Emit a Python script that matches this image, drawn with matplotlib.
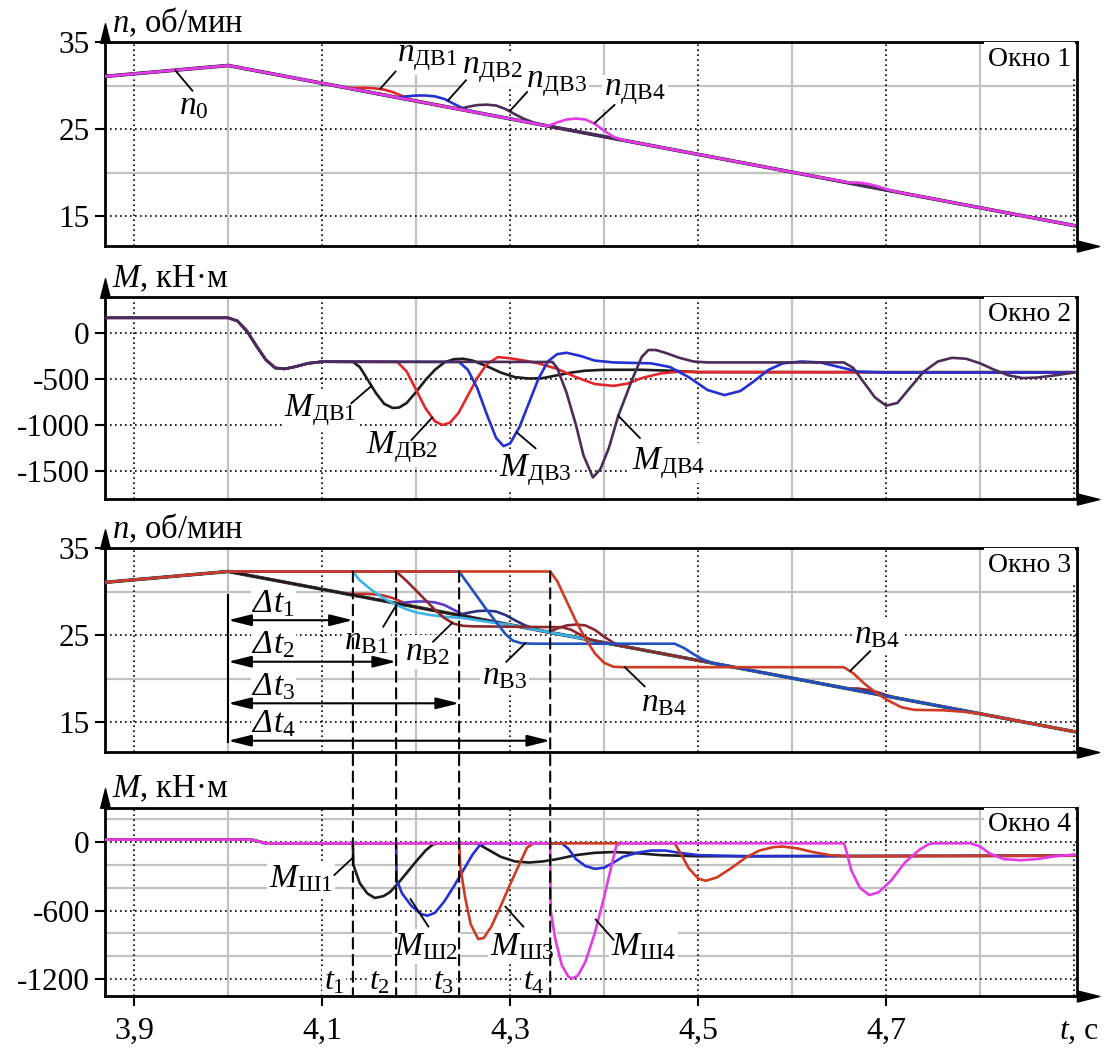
import matplotlib
matplotlib.use("Agg")
import matplotlib.pyplot as plt
from matplotlib.patches import ConnectionPatch
from matplotlib.path import Path
from matplotlib.transforms import offset_copy
from matplotlib.textpath import TextPath
from matplotlib.font_manager import FontProperties

plt.rcParams['font.family'] = ['Liberation Serif', 'DejaVu Serif']
plt.rcParams['axes.unicode_minus'] = False
plt.rcParams['mathtext.fontset'] = 'custom'
plt.rcParams['mathtext.rm'] = 'Liberation Serif'
plt.rcParams['mathtext.it'] = 'Liberation Serif:italic'
plt.rcParams['mathtext.bf'] = 'Liberation Serif:bold'

# ---------------- time axis, s ----------------
T_MIN, T_MAX = 3.869, 4.903
t_ticks = [3.9, 4.1, 4.3, 4.5, 4.7]
t_tick_labels = ['3,9', '4,1', '4,3', '4,5', '4,7']
t_dotted = [3.9, 4.1, 4.3, 4.5, 4.7, 4.9]
t_grey = [4.0, 4.2, 4.4, 4.6, 4.8]

# brake release moments t1..t4
t_release = [4.1327, 4.1787, 4.2457, 4.3426]

# ---------------- speed, rpm (windows 1 and 3) ----------------
t_base = [3.869, 4.0, 4.1, 4.2, 4.3, 4.4, 4.5, 4.6, 4.7, 4.8, 4.9]
n_base = [31.05, 32.3, 30.26, 28.21, 26.17, 24.12, 22.08, 20.04, 17.99, 15.95, 13.9]

# motor speeds: local deviations from the common ramp
t_dv1 = [4.125, 4.135, 4.145, 4.155, 4.165, 4.175, 4.185, 4.195]
n_dv1 = [29.74, 29.72, 29.74, 29.68, 29.55, 29.25, 28.8, 28.35]
t_dv2 = [4.18, 4.19, 4.20, 4.21, 4.22, 4.23, 4.24, 4.25, 4.26]
n_dv2 = [28.62, 28.75, 28.85, 28.85, 28.75, 28.45, 27.9, 27.35, 27.0]
t_dv3 = [4.245, 4.255, 4.265, 4.275, 4.285, 4.295, 4.305, 4.315, 4.325, 4.335]
n_dv3 = [27.29, 27.55, 27.75, 27.8, 27.7, 27.3, 26.7, 26.15, 25.75, 25.45]
t_dv4 = [4.34, 4.35, 4.36, 4.37, 4.38, 4.39, 4.40, 4.41, 4.42]
n_dv4 = [25.35, 25.75, 26.1, 26.2, 26.1, 25.6, 24.8, 24.1, 23.72]
t_dv4b = [4.66, 4.67, 4.68, 4.69, 4.70, 4.71]
n_dv4b = [18.85, 18.85, 18.7, 18.45, 18.1, 17.8]

# shaft speeds: held at the top until release, then drop
t_v1 = [4.0, 4.1327, 4.14, 4.15, 4.16, 4.17, 4.18, 4.19, 4.20, 4.215, 4.23, 4.25, 4.28]
n_v1 = [32.3, 32.3, 31.3, 30.4, 29.6, 28.95, 28.4, 27.95, 27.6, 27.3, 27.1, 26.95, 26.45]
t_v2 = [4.0, 4.1787, 4.19, 4.20, 4.21, 4.22, 4.23, 4.24, 4.25, 4.26, 4.30, 4.355, 4.365,
        4.375, 4.385, 4.395]
n_v2 = [32.3, 32.3, 31.2, 30.1, 29.0, 27.9, 26.95, 26.3, 26.05, 26.0, 25.95, 25.9, 25.6,
        25.0, 24.5, 24.2]
t_v3 = [4.0, 4.2457, 4.255, 4.265, 4.275, 4.285, 4.295, 4.303, 4.312, 4.325, 4.475, 4.485,
        4.495, 4.505, 4.515, 4.53]
n_v3 = [32.3, 32.3, 30.9, 29.4, 27.9, 26.5, 25.1, 24.35, 24.05, 24.0, 24.0, 23.5,
        22.8, 22.2, 21.8, 21.45]
t_v4 = [4.0, 4.3426, 4.35, 4.36, 4.37, 4.38, 4.39, 4.40, 4.41, 4.42, 4.655, 4.665, 4.678,
        4.69, 4.70, 4.716, 4.73, 4.76, 4.78, 4.80]
n_v4 = [32.3, 32.3, 31.2, 28.9, 26.6, 24.6, 22.9, 21.8, 21.35, 21.3, 21.3, 20.6, 19.3,
        18.3, 17.6, 16.7, 16.4, 16.35, 16.2, 15.95]

# ---------------- motor torque, kN*m (window 2) ----------------
t_m0 = [3.869, 4.0, 4.01, 4.02, 4.03, 4.04, 4.05, 4.06, 4.07, 4.085, 4.10]
m_m0 = [165, 165, 130, 20, -140, -290, -380, -390, -370, -330, -312]

t_m1 = [4.133, 4.14, 4.148, 4.157, 4.166, 4.175, 4.182, 4.19, 4.20, 4.21, 4.22, 4.23, 4.24,
        4.25, 4.26, 4.275, 4.29, 4.305, 4.32, 4.335, 4.35, 4.365, 4.38, 4.40, 4.44, 4.47,
        4.50, 4.90]
m_m1 = [-315, -370, -500, -650, -770, -815, -810, -760, -640, -510, -400, -320, -285,
        -280, -300, -360, -430, -480, -495, -490, -460, -430, -410, -400, -400, -410,
        -425, -425]
t_m2 = [4.18, 4.19, 4.20, 4.21, 4.22, 4.228, 4.236, 4.245, 4.255, 4.265, 4.275, 4.287,
        4.30, 4.315, 4.33, 4.35, 4.37, 4.39, 4.41, 4.425, 4.44, 4.46, 4.48, 4.50, 4.90]
m_m2 = [-315, -420, -620, -820, -960, -1000, -975, -870, -680, -490, -340, -262,
        -275, -300, -330, -390, -480, -555, -575, -550, -490, -440, -420, -425, -430]
t_m3 = [4.2457, 4.255, 4.265, 4.275, 4.285, 4.293, 4.30, 4.31, 4.32, 4.33, 4.34, 4.35,
        4.36, 4.375, 4.39, 4.41, 4.45, 4.47, 4.49, 4.51, 4.528, 4.545, 4.56, 4.575, 4.59,
        4.61, 4.63, 4.65, 4.67, 4.70, 4.90]
m_m3 = [-315, -400, -600, -880, -1140, -1230, -1200, -1020, -760, -500, -310, -230,
        -215, -250, -300, -320, -330, -370, -480, -620, -675, -630, -520, -400, -330,
        -310, -320, -370, -420, -430, -430]
t_m4 = [4.345, 4.35, 4.36, 4.37, 4.378, 4.388, 4.396, 4.405, 4.415, 4.43, 4.44, 4.447,
        4.455, 4.465, 4.48, 4.495, 4.51, 4.655, 4.665, 4.675, 4.688, 4.70, 4.712, 4.725,
        4.74, 4.755, 4.77, 4.785, 4.80, 4.815, 4.83, 4.845, 4.86, 4.88, 4.90]
m_m4 = [-315, -380, -650, -1000, -1330, -1570, -1480, -1250, -900, -500, -260, -185,
        -185, -215, -270, -310, -320, -320, -380, -520, -700, -790, -760, -600,
        -420, -310, -270, -280, -330, -400, -460, -490, -485, -460, -430]

# ---------------- shaft torque, kN*m (window 4) ----------------
t_s0 = [3.869, 4.025, 4.035, 4.04, 4.05]
m_s0 = [20, 20, 0, -15, -12]

t_s1 = [4.1327, 4.1332, 4.14, 4.148, 4.156, 4.165, 4.172, 4.18, 4.19, 4.20, 4.21, 4.218,
        4.225, 4.265, 4.275, 4.29, 4.305, 4.32, 4.335, 4.35, 4.37, 4.39, 4.41, 4.43, 4.46,
        4.50, 4.90]
m_s1 = [-12, -200, -360, -450, -490, -475, -440, -370, -270, -170, -75, -20,
        -12, -12, -60, -130, -170, -180, -170, -150, -115, -95, -88, -95, -115,
        -125, -120]
t_s2 = [4.1787, 4.1792, 4.185, 4.195, 4.205, 4.212, 4.22, 4.23, 4.24, 4.25, 4.26, 4.268,
        4.275, 4.355, 4.362, 4.37, 4.38, 4.39, 4.40, 4.41, 4.42, 4.435, 4.45, 4.465, 4.48,
        4.50, 4.55, 4.90]
m_s2 = [-12, -330, -450, -560, -630, -645, -620, -520, -390, -250, -110, -25,
        -12, -12, -60, -150, -210, -235, -225, -180, -130, -95, -75, -75, -95,
        -115, -125, -120]
t_s3 = [4.2457, 4.247, 4.252, 4.258, 4.266, 4.272, 4.28, 4.29, 4.30, 4.31, 4.318, 4.325,
        4.475, 4.48, 4.49, 4.50, 4.508, 4.52, 4.535, 4.55, 4.565, 4.58, 4.59, 4.605, 4.62,
        4.64, 4.66, 4.90]
m_s3 = [-12, -220, -480, -720, -850, -840, -740, -560, -370, -190, -50, -12,
        -12, -80, -230, -320, -340, -310, -230, -140, -75, -45, -40, -55, -85,
        -115, -125, -120]
t_s4 = [4.3426, 4.3431, 4.348, 4.355, 4.362, 4.366, 4.372, 4.38, 4.39, 4.40, 4.408, 4.413,
        4.418, 4.655, 4.657, 4.663, 4.672, 4.682, 4.692, 4.705, 4.72, 4.735, 4.745, 4.75,
        4.79, 4.80, 4.81, 4.825, 4.843, 4.86, 4.88, 4.90]
m_s4 = [-12, -600, -850, -1080, -1180, -1195, -1170, -1050, -800, -480, -200, -30,
        -12, -12, -60, -250, -400, -465, -440, -340, -180, -70, -20, -12,
        -12, -40, -100, -150, -160, -150, -125, -110]

C_BLACK = '#1c1c1c'
C_RED = '#e3262b'
C_BLUE = '#2430d0'
C_PURPLE = '#4b2d58'
C_MAGENTA = '#e43ce4'
C_CYAN = '#3cb4e6'
C_BROWN = '#8a2a2a'
C_GREEN = '#2e8b2e'
C_ORANGE = '#cf3a24'
C_GRID = '#c2c2c2'


def merged(base_t, base_v, *segments):
    pts = list(zip(base_t, base_v))
    for seg_t, seg_v in segments:
        pts = [p for p in pts if p[0] < seg_t[0] or p[0] > seg_t[-1]]
        pts += list(zip(seg_t, seg_v))
    pts.sort()
    t, v = zip(*pts)
    return list(t), list(v)


fig = plt.figure(figsize=(11.07, 10.49), dpi=100)
L, W = 105 / 1107, 972 / 1107


def panel(top_px, bottom_px):
    return fig.add_axes([L, 1 - bottom_px / 1049, W, (bottom_px - top_px) / 1049])


ax1 = panel(42, 245.6)
ax2 = panel(297.1, 498.6)
ax3 = panel(548, 751.6)
ax4 = panel(807.7, 996.2)

up_tri = Path([(0, 1), (-0.5, -1), (0.5, -1), (0, 1)],
              [Path.MOVETO, Path.LINETO, Path.LINETO, Path.CLOSEPOLY])
right_tri = Path([(1, 0), (-1, 0.5), (-1, -0.5), (1, 0)],
                 [Path.MOVETO, Path.LINETO, Path.LINETO, Path.CLOSEPOLY])


def frame(ax, ylim, major, minor, ylabel, window):
    ax.set_xlim(T_MIN, T_MAX)
    ax.set_ylim(*ylim)
    for t in t_dotted:
        ax.axvline(t, color='k', ls=(0, (1, 2)), lw=1.2, zorder=1)
    for t in t_grey:
        ax.axvline(t, color=C_GRID, lw=1.6, zorder=0.5)
    for y in major:
        ax.axhline(y, color='k', ls=(0, (1, 2)), lw=1.2, zorder=1)
    for y in minor:
        ax.axhline(y, color=C_GRID, lw=1.6, zorder=0.5)
    ax.set_yticks(major)
    ax.set_yticklabels([str(v) for v in major])
    ax.tick_params(axis='y', direction='out', length=7, width=1.5, labelsize=22.5, pad=4)
    ax.set_xticks([])
    for s in ax.spines.values():
        s.set_linewidth(2)
    ax.plot([0], [1], marker=up_tri, ms=14, color='k', clip_on=False, zorder=10,
            transform=offset_copy(ax.transAxes, fig=fig, x=0, y=9.5, units='dots'))
    ax.plot([1], [0], marker=right_tri, ms=16, color='k', clip_on=False, zorder=10,
            transform=offset_copy(ax.transAxes, fig=fig, x=11, y=0, units='dots'))
    ax.annotate(ylabel, xy=(0, 1), xycoords='axes fraction', xytext=(7, 3),
                textcoords='offset pixels', fontsize=23.5, ha='left', va='bottom')
    ax.annotate(window, xy=(1, 1), xycoords='axes fraction', xytext=(-6, -17),
                textcoords='offset pixels', fontsize=20, ha='right', va='center', zorder=8,
                bbox=dict(boxstyle='square,pad=0.15', fc='white', ec='none'))


def tag(ax, x, y, s, size=24):
    # white box hides the grid but stays under the curves
    ax.text(x, y, s, fontsize=size, ha='center', va='center', zorder=2.5,
            bbox=dict(boxstyle='square,pad=0.06', fc='white', ec='none'))


def leader(ax, p0, p1):
    ax.plot([p0[0], p1[0]], [p0[1], p1[1]], color='k', lw=1.3, zorder=9)


frame(ax1, (11.6, 35), [35, 25, 15], [30, 20], r'$n$, об/мин', 'Окно 1')
frame(ax2, (-1800, 390), [0, -500, -1000, -1500], [], r'$M$, кН·м', 'Окно 2')
frame(ax3, (11.6, 35), [35, 25, 15], [30, 20], r'$n$, об/мин', 'Окно 3')
frame(ax4, (-1350, 300), [0, -600, -1200], [200, -200, -400, -800, -1000],
      r'$M$, кН·м', 'Окно 4')

ax4.set_xticks(t_ticks)
ax4.set_xticklabels(t_tick_labels)
ax4.tick_params(axis='x', direction='out', length=7, width=1.5, labelsize=23, pad=8)
ax4.annotate(r'$t$, с', xy=(1, 0), xycoords='axes fraction',
             xytext=(22, -21), textcoords='offset pixels', fontsize=23,
             ha='right', va='top', annotation_clip=False)

LW = 1.9

# ---- window 1: motor speeds ----
dv_segments = [((t_dv1, n_dv1),), ((t_dv2, n_dv2),), ((t_dv3, n_dv3),),
               ((t_dv4, n_dv4), (t_dv4b, n_dv4b))]
dv_colors = [C_RED, C_BLUE, C_PURPLE, C_MAGENTA]
ax1.plot(t_base, n_base, color=C_BLACK, lw=2.6, zorder=3)
for segs, c in zip(dv_segments, dv_colors):
    t, v = merged(t_base, n_base, *segs)
    ax1.plot(t, v, color=c, lw=LW, zorder=4 if c == C_MAGENTA else 3)

tag(ax1, 3.963, 27.6, r'$n_0$')
leader(ax1, (3.944, 31.7), (3.962, 29.4))
tag(ax1, 4.212, 33.2, r'$n_{\mathrm{ДВ1}}$')
leader(ax1, (4.162, 29.65), (4.178, 31.6))
tag(ax1, 4.281, 31.8, r'$n_{\mathrm{ДВ2}}$')
leader(ax1, (4.234, 28.3), (4.253, 30.6))
tag(ax1, 4.349, 30.2, r'$n_{\mathrm{ДВ3}}$')
leader(ax1, (4.30, 27.1), (4.318, 29.25))
tag(ax1, 4.433, 29.25, r'$n_{\mathrm{ДВ4}}$')
leader(ax1, (4.39, 25.7), (4.411, 27.76))

# ---- window 2: motor torques ----
for tt, mm, c in [(t_m1, m_m1, C_BLACK), (t_m2, m_m2, C_RED),
                  (t_m3, m_m3, C_BLUE), (t_m4, m_m4, C_PURPLE)]:
    ax2.plot(t_m0 + tt, m_m0 + mm, color=c, lw=LW, zorder=3)

tag(ax2, 4.098, -840, r'$M_{\mathrm{ДВ1}}$')
leader(ax2, (4.152, -580), (4.131, -764))
tag(ax2, 4.185, -1239, r'$M_{\mathrm{ДВ2}}$')
leader(ax2, (4.217, -920), (4.195, -1163))
tag(ax2, 4.327, -1489, r'$M_{\mathrm{ДВ3}}$')
leader(ax2, (4.307, -1080), (4.327, -1253))
tag(ax2, 4.468, -1414, r'$M_{\mathrm{ДВ4}}$')
leader(ax2, (4.415, -900), (4.438, -1141))

# ---- window 3: shaft speeds ----
ax3.plot(t_base, n_base, color=C_GREEN, lw=2.6, zorder=3)
for segs, c in zip(dv_segments, ['#c0302a', '#5a3ac8', '#26307a', '#8a2536']):
    t, v = merged(t_base, n_base, *segs)
    ax3.plot(t, v, color=c, lw=LW, zorder=3)
ax3.plot(t_base, n_base, color=C_BLACK, lw=1.6, zorder=3)
for tt, nn, c in [(t_v1, n_v1, C_CYAN), (t_v2, n_v2, C_BROWN),
                  (t_v3, n_v3, '#2050c0'), (t_v4, n_v4, C_ORANGE)]:
    t, v = merged(t_base, n_base, (tt, nn))
    ax3.plot(t, v, color=c, lw=LW, zorder=3.5)

tag(ax3, 4.147, 24.3, r'$n_{\mathrm{В1}}$')
leader(ax3, (4.179, 28.45), (4.165, 25.95))
tag(ax3, 4.212, 23.05, r'$n_{\mathrm{В2}}$')
leader(ax3, (4.238, 26.35), (4.218, 24.23))
tag(ax3, 4.294, 20.3, r'$n_{\mathrm{В3}}$')
leader(ax3, (4.316, 24.05), (4.296, 21.93))
tag(ax3, 4.463, 17.2, r'$n_{\mathrm{В4}}$')
leader(ax3, (4.422, 21.3), (4.443, 19.1))
tag(ax3, 4.69, 25.0, r'$n_{\mathrm{В4}}$')
leader(ax3, (4.662, 20.9), (4.683, 23.15))

# delay arrows from the start of braking to each release
ax3.plot([4.0, 4.0], [29.6, 12.7], color='k', lw=1.5, zorder=9)
arrow_y = [26.7, 21.93, 17.15, 12.85]
delta_fp = FontProperties(family='Liberation Serif', style='italic', size=24)
delta_w = TextPath((0, 0), 'Δ', prop=delta_fp).get_extents().xmax
for i, (tr, ya) in enumerate(zip(t_release, arrow_y), start=1):
    ax3.annotate('', xy=(tr, ya), xytext=(4.0, ya),
                 arrowprops=dict(arrowstyle='<|-|>,head_length=1.4,head_width=0.35',
                                 color='k', lw=1.5, mutation_scale=10,
                                 shrinkA=0, shrinkB=0), zorder=9)
    yb = ya + 0.95
    ax3.text(4.026, yb, 'Δ', fontproperties=delta_fp, ha='left', va='baseline', zorder=2.5,
             bbox=dict(boxstyle='square,pad=0.05', fc='white', ec='none'))
    ax3.text(4.026, yb, r'$t_{%d}$' % i, fontsize=24, ha='left', va='baseline', zorder=2.6,
             transform=offset_copy(ax3.transData, fig=fig, x=delta_w + 1.5, units='points'),
             bbox=dict(boxstyle='square,pad=0.05', fc='white', ec='none'))

# ---- window 4: shaft torques ----
for tt, mm, c in [(t_s1, m_s1, C_BLACK), (t_s2, m_s2, C_BLUE),
                  (t_s3, m_s3, C_ORANGE), (t_s4, m_s4, C_MAGENTA)]:
    ax4.plot(t_s0 + tt, m_s0 + mm, color=c, lw=LW, zorder=3)

tag(ax4, 4.078, -320, r'$M_{\mathrm{Ш1}}$')
leader(ax4, (4.132, -143), (4.113, -289))
tag(ax4, 4.211, -915, r'$M_{\mathrm{Ш2}}$')
leader(ax4, (4.194, -500), (4.213, -740))
tag(ax4, 4.313, -915, r'$M_{\mathrm{Ш3}}$')
leader(ax4, (4.295, -566), (4.314, -741))
tag(ax4, 4.442, -920, r'$M_{\mathrm{Ш4}}$')
leader(ax4, (4.391, -679), (4.410, -855))

for i, (tx, tr) in enumerate(zip([4.1125, 4.161, 4.229, 4.325], t_release), start=1):
    tag(ax4, tx, -1225, r'$t_{%d}$' % i, size=23)
    con = ConnectionPatch(xyA=(tr, 32.3), coordsA=ax3.transData,
                          xyB=(tr, -1350), coordsB=ax4.transData,
                          color='k', lw=1.5, linestyle=(0, (5, 3)), zorder=9)
    fig.add_artist(con)

fig.savefig('out.png', dpi=100)
